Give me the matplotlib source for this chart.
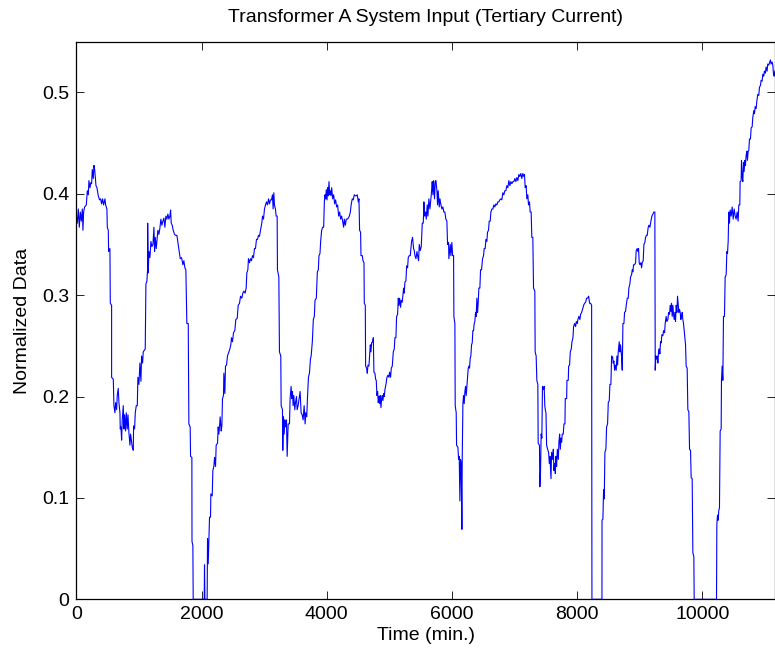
import numpy as np
import matplotlib
matplotlib.use("Agg")
import matplotlib.pyplot as plt

# (time in min., normalized value), in three stretches
part1 = [(0,.378),(16,.371),(32,.385),(48,.367),(64,.382),(80,.373),(96,.385),(106,.364),(117,.382),(133,.387),
         (160,.389),(176,.403),(192,.399),(202,.413),(218,.406),(234,.411),(245,.410),(255,.424),(271,.415),(282,.428),
         (293,.424),(303,.417),(314,.408),(330,.406),(351,.398),(372,.394),(388,.395),(404,.390),(420,.395),(436,.389),
         (458,.395),(468,.389),(489,.385),(495,.367),(511,.364),(516,.343),(537,.346),(543,.292),(564,.290),(564,.219),
         (591,.217),(601,.191),(617,.184),(628,.194),(644,.187),(654,.201),(670,.208),(681,.194),(697,.184),(702,.168),
         (713,.170),(724,.157),(734,.177),(750,.191),(761,.168),(771,.182),(787,.166),(798,.184),(814,.168),(825,.182),
         (841,.164),(857,.152),(867,.163),(883,.155),(894,.150),(910,.147),(915,.171),(931,.168),(942,.184),(958,.191),
         (974,.191),(984,.219),(1000,.212),(1016,.233),(1032,.215),(1043,.240),(1059,.233),(1069,.244),(1091,.246),(1101,.247),
         (1112,.311),(1128,.314),(1138,.325),(1140,.371),(1149,.322),(1160,.343),(1176,.337),(1192,.353),(1208,.348),(1224,.350),
         (1240,.367),(1250,.343),(1261,.357),(1277,.346),(1287,.353),(1303,.364),(1319,.360),(1335,.366),(1351,.375),(1367,.369),
         (1383,.373),(1399,.376),(1415,.367),(1431,.378),(1447,.375),(1463,.380),(1479,.375),(1495,.378),(1506,.384),(1516,.371),
         (1532,.369),(1548,.364),(1569,.360),(1585,.359),(1607,.359),(1628,.350),(1644,.343),(1660,.336),(1681,.337),(1702,.330),
         (1718,.334),(1734,.327),(1750,.325),(1766,.272),(1788,.272),(1798,.173),(1819,.170),(1825,.141),(1846,.140),(1848,.057),
         (1862,.053),(1867,0),(2043,0),(2048,.034),(2054,0),(2090,0),(2096,.060),(2107,.035),(2117,.057),(2128,.081),
         (2144,.081),(2149,.104),(2171,.102),(2181,.127),(2197,.131),(2208,.140),(2224,.131),(2234,.152),(2256,.154),(2266,.170),
         (2277,.163),(2288,.171),(2298,.180),(2314,.166),(2325,.171),(2335,.198),(2351,.201),(2357,.223),(2373,.203),(2383,.230),
         (2399,.231),(2415,.240),(2437,.244),(2453,.247),(2468,.251),(2479,.258),(2495,.254),(2511,.263),(2532,.265),(2548,.276),
         (2570,.277),(2586,.290),(2607,.292),(2623,.299),(2644,.297),(2660,.302),(2676,.304),(2697,.302),(2713,.307),(2724,.322),
         (2740,.325),(2750,.336),(2766,.332),(2782,.336),(2798,.334),(2814,.339),(2830,.337),(2846,.346),(2862,.346),(2878,.355),
         (2894,.355),(2910,.359),(2926,.358),(2942,.364),(2963,.371),(2974,.378),(2990,.375),(3006,.385),(3022,.389),(3038,.392),
         (3054,.389),(3070,.395),(3086,.390),(3102,.394),(3118,.394),(3133,.399),(3144,.385),(3155,.401),(3165,.389),(3181,.385),
         (3192,.378),(3208,.378),(3213,.325),(3235,.318),(3245,.244),(3266,.240),(3272,.191),(3293,.187),(3298,.147),(3309,.180),
         (3320,.163),(3330,.177),(3341,.170),(3357,.177),(3368,.141),(3384,.173),(3405,.173),(3415,.198),(3431,.210),(3442,.198),
         (3453,.205),(3463,.191),(3474,.201),(3490,.187),(3501,.194),(3517,.200),(3527,.187),(3543,.191),(3559,.198),(3575,.205),
         (3591,.184),(3607,.182),(3623,.177),(3639,.191),(3655,.173),(3665,.184),(3681,.180),(3692,.198),(3708,.219),(3724,.223),
         (3740,.237),(3751,.240)]

part2 = [(3770,.254),(3786,.276),(3802,.279),(3813,.295),(3834,.297),(3850,.323),(3866,.325),(3876,.339),(3892,.341),(3903,.353),
         (3919,.364),(3935,.367),(3951,.367),(3962,.392),(3972,.399),(3983,.395),(3993,.404),(4004,.394),(4015,.406),(4025,.398),
         (4036,.412),(4047,.399),(4057,.403),(4068,.398),(4079,.406),(4095,.395),(4111,.399),(4126,.390),(4142,.394),(4158,.387),
         (4174,.389),(4190,.378),(4206,.382),(4222,.375),(4238,.378),(4254,.373),(4270,.367),(4281,.375),(4297,.369),(4313,.375),
         (4329,.375),(4345,.376),(4361,.378),(4377,.382),(4392,.390),(4408,.395),(4424,.394),(4440,.399),(4456,.398),(4472,.398),
         (4488,.399),(4504,.392),(4515,.395),(4525,.364),(4541,.362),(4547,.339),(4568,.339),(4579,.334),(4595,.332),(4600,.292),
         (4616,.290),(4621,.230),(4637,.228),(4648,.223),(4658,.231),(4674,.230),(4685,.240),(4696,.251),(4706,.244),(4717,.253),
         (4733,.254),(4744,.258),(4754,.224),(4770,.223),(4781,.217),(4791,.216),(4802,.201),(4813,.205),(4823,.194),(4834,.200),
         (4845,.193),(4855,.201),(4866,.189),(4877,.198),(4887,.201),(4898,.196),(4909,.203),(4919,.200),(4930,.207),(4946,.212),
         (4962,.219),(4978,.221),(4994,.219),(5004,.224),(5020,.219),(5031,.228),(5047,.230),(5063,.244),(5079,.247),(5089,.258),
         (5105,.258),(5116,.279),(5132,.281),(5143,.297),(5153,.290),(5164,.297),(5180,.288),(5190,.295),(5206,.293),(5217,.300),
         (5228,.307),(5238,.302),(5249,.313),(5265,.314),(5276,.329),(5292,.327),(5302,.337),(5318,.339),(5334,.339),(5345,.346),
         (5355,.353),(5371,.357),(5387,.346),(5398,.344),(5409,.339),(5425,.336),(5441,.343),(5451,.339),(5467,.334),(5478,.350),
         (5494,.344),(5510,.348),(5526,.371),(5542,.371),(5552,.392),(5563,.378),(5579,.382),(5590,.375),(5605,.389),(5616,.378),
         (5632,.395),(5648,.385),(5664,.395),(5675,.403),(5685,.412),(5696,.399),(5707,.413),(5722,.395),(5733,.412),(5744,.413),
         (5760,.403),(5770,.389),(5781,.403),(5797,.387),(5808,.395),(5824,.389),(5840,.385),(5855,.387),(5871,.382),(5887,.382),
         (5903,.375),(5919,.373),(5930,.350),(5946,.352),(5951,.336),(5973,.350),(5983,.339),(5999,.352),(6010,.339),(6026,.339),
         (6031,.279),(6047,.272),(6052,.191),(6068,.184),(6074,.152),(6095,.150),(6106,.138),(6116,.141),(6127,.097),(6137,.138),
         (6148,.134),(6159,.069),(6164,.138),(6175,.193),(6185,.201),(6196,.193),(6207,.205),(6217,.210),(6228,.201),(6239,.210),
         (6249,.219),(6260,.228),(6270,.230),(6281,.228),(6292,.238),(6302,.240),(6313,.251),(6324,.253),(6334,.265),(6345,.265),
         (6356,.272),(6366,.274),(6377,.283),(6387,.279),(6398,.297),(6409,.283),(6419,.292),(6430,.307),(6446,.307),(6457,.325),
         (6473,.325),(6489,.336),(6505,.339),(6515,.346),(6531,.346),(6542,.355),(6558,.353),(6568,.362),(6584,.364),(6595,.373),
         (6611,.373),(6622,.382),(6638,.385),(6654,.385),(6669,.389),(6685,.387),(6701,.390),(6717,.389),(6733,.392),(6749,.392),
         (6765,.394),(6781,.395),(6797,.394),(6813,.401),(6829,.399),(6845,.403),(6861,.403),(6877,.408),(6893,.406),(6909,.413),
         (6925,.408),(6941,.412),(6957,.410),(6973,.412),(6989,.412),(7005,.415),(7021,.412),(7037,.416),(7053,.413),(7068,.419),
         (7084,.417),(7100,.420),(7116,.415),(7132,.420),(7148,.417),(7159,.419),(7170,.406),(7185,.408),(7196,.395),(7212,.399),
         (7223,.389),(7239,.392),(7249,.382),(7265,.382),(7276,.357),(7292,.357),(7303,.307),(7324,.304),(7329,.244),(7345,.240),
         (7356,.216),(7372,.212),(7377,.154),(7398,.152),(7404,.111),(7414,.124),(7425,.163),(7436,.159),(7446,.210),(7462,.207),
         (7473,.210),(7483,.191)]

part3 = [(7491,.187),(7502,.184),(7512,.152),(7528,.148),(7544,.145),(7555,.134),(7566,.141),(7582,.119),(7592,.145),(7608,.138),
         (7619,.148),(7629,.127),(7640,.134),(7651,.124),(7661,.141),(7672,.131),(7683,.148),(7699,.138),(7709,.155),(7720,.163),
         (7731,.148),(7741,.159),(7752,.155),(7762,.163),(7778,.163),(7789,.173),(7805,.173),(7810,.198),(7832,.198),(7837,.216),
         (7858,.216),(7864,.230),(7879,.231),(7890,.244),(7906,.247),(7917,.254),(7933,.258),(7943,.269),(7959,.272),(7975,.269),
         (7986,.274),(8002,.272),(8012,.276),(8028,.279),(8044,.276),(8055,.281),(8071,.283),(8087,.286),(8103,.290),(8119,.292),
         (8135,.293),(8151,.297),(8167,.297),(8183,.299),(8199,.292),(8215,.292),(8231,.290),(8236,0),(8396,0),(8397,.078),
         (8411,.079),(8422,.108),(8433,.099),(8443,.145),(8459,.148),(8470,.170),(8486,.173),(8497,.194),(8513,.196),(8523,.212),
         (8539,.212),(8550,.240),(8566,.239),(8576,.233),(8587,.235),(8598,.226),(8608,.231),(8624,.226),(8635,.240),(8646,.231),
         (8656,.244),(8672,.254),(8683,.244),(8693,.251),(8709,.240),(8720,.226),(8731,.272),(8747,.272),(8757,.283),(8773,.284),
         (8784,.290),(8800,.297),(8816,.297),(8826,.307),(8842,.311),(8853,.318),(8869,.320),(8880,.325),(8890,.323),(8901,.330),
         (8917,.330),(8933,.332),(8943,.344),(8959,.346),(8970,.343),(8981,.346),(8991,.332),(9002,.330),(9018,.332),(9029,.327),
         (9039,.332),(9055,.334),(9066,.350),(9082,.352),(9092,.357),(9108,.359),(9119,.359),(9135,.367),(9146,.369),(9162,.367),
         (9178,.373),(9194,.378),(9209,.380),(9225,.382),(9241,.382),(9247,.226),(9257,.240),(9268,.237),(9279,.240),(9289,.233),
         (9300,.244),(9310,.247),(9321,.242),(9332,.254),(9342,.253),(9353,.261),(9369,.260),(9380,.265),(9396,.263),(9406,.272),
         (9422,.279),(9433,.274),(9449,.276),(9460,.283),(9475,.281),(9486,.290),(9497,.284),(9507,.292),(9518,.279),(9529,.290),
         (9539,.281),(9550,.276),(9561,.283),(9571,.274),(9582,.290),(9593,.283),(9603,.299),(9614,.290),(9624,.283),(9635,.286),
         (9646,.283),(9656,.276),(9667,.279),(9678,.283),(9688,.276),(9699,.272),(9710,.265),(9720,.258),(9731,.251),(9741,.230),
         (9757,.228),(9768,.187),(9784,.185),(9795,.148),(9811,.147),(9821,.120),(9837,.119),(9848,.046),(9864,.042),(9869,0),
         (10226,0),(10231,.074),(10242,.083),(10252,.078),(10263,.088),(10273,.090),(10284,.166),(10300,.168),(10305,.216),(10316,.230),
         (10327,.216),(10337,.279),(10353,.279),(10364,.318),(10380,.320),(10391,.343),(10401,.341),(10412,.353),(10422,.382),(10433,.371),
         (10444,.384),(10460,.378),(10476,.387),(10492,.375),(10508,.385),(10524,.378),(10539,.375),(10555,.382),(10571,.373),(10582,.389),
         (10598,.389),(10603,.412),(10619,.413),(10625,.433),(10635,.417),(10646,.412),(10657,.431),(10667,.422),(10678,.433),(10688,.428),
         (10699,.438),(10710,.442),(10720,.433),(10731,.442),(10742,.443),(10752,.454),(10768,.454),(10779,.465),(10795,.466),(10805,.475),
         (10821,.482),(10832,.479),(10843,.486),(10859,.484),(10869,.491),(10885,.498),(10901,.497),(10912,.505),(10928,.507),(10938,.512),
         (10954,.511),(10965,.518),(10981,.516),(10991,.521),(11007,.519),(11018,.525),(11034,.521),(11044,.528),(11060,.527),(11076,.530),
         (11087,.532),(11097,.528),(11114,.530),(11125,.527),(11135,.519),(11146,.516),(11157,.521)]

x_ticks = [0, 2000, 4000, 6000, 8000, 10000]
y_ticks = [0, 0.1, 0.2, 0.3, 0.4, 0.5]
y_tick_labels = ['0', '0.1', '0.2', '0.3', '0.4', '0.5']

plt.rcParams['font.family'] = ['Liberation Sans', 'DejaVu Sans']

t, y = zip(*(part1 + part2 + part3))
t = np.array(t)
y = np.array(y)

fig = plt.figure(figsize=(7.75, 6.62), dpi=100)
ax = fig.add_axes([76.3/775, 62.7/662, 698.7/775, 557.6/662])
ax.plot(t, y, color='#0000ff', lw=0.8)

ax.set_xlim(0, 11160)
ax.set_ylim(0, 0.55)
ax.set_xticks(x_ticks)
ax.set_yticks(y_ticks)
ax.set_yticklabels(y_tick_labels)
ax.tick_params(direction='in', length=5.5, width=0.6, top=True, right=True,
               labelsize=14, pad=5)
for s in ax.spines.values():
    s.set_linewidth(0.9)

ax.set_title('Transformer A System Input (Tertiary Current)', fontsize=14, pad=14)
ax.set_xlabel('Time (min.)', fontsize=14, labelpad=3)
ax.set_ylabel('Normalized Data', fontsize=14, labelpad=8)

fig.savefig('out.png', dpi=100)
